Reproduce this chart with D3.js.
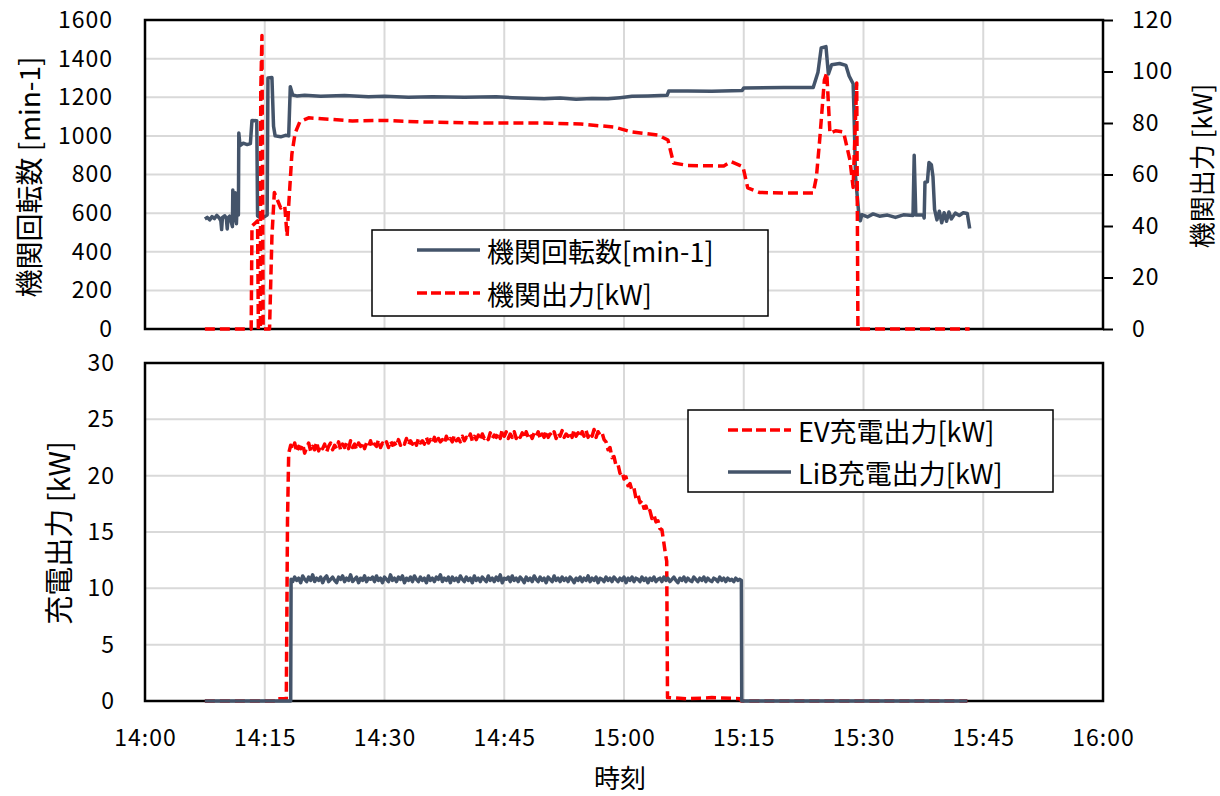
<!DOCTYPE html>
<html>
<head>
<meta charset="utf-8">
<script src="https://cdn.jsdelivr.net/npm/d3@7"></script>
<style>
body { margin: 0; background: #fff; }
text { font-family: "Noto Sans CJK JP", sans-serif; fill: #000; }
.tick text { font-size: 23px; letter-spacing: 1px; }
</style>
</head>
<body>
<svg id="chart" width="1220" height="796"></svg>
<script>
// time is minutes after 14:00
var timeTicks = ["14:00", "14:15", "14:30", "14:45", "15:00", "15:15", "15:30", "15:45", "16:00"];
var rpmTicks = [0, 200, 400, 600, 800, 1000, 1200, 1400, 1600];
var kwTicks = [0, 20, 40, 60, 80, 100, 120];
var chgTicks = [0, 5, 10, 15, 20, 25, 30];

// 機関回転数 [min-1]
var rpmPts = [[7.5,570],[7.8,578],[8.1,565],[8.4,582],[8.7,572],[9.0,588],[9.3,575],[9.5,560],[9.6,515],[9.7,578],
  [10.0,586],[10.2,568],[10.3,518],[10.4,576],[10.6,584],[10.8,555],[10.95,530],[11.0,720],[11.15,560],[11.3,705],
  [11.45,545],[11.6,700],[11.7,590],[11.75,1015],[11.9,950],[12.3,962],[12.8,955],[13.2,960],[13.4,1080],[14.0,1078],
  [14.1,585],[14.5,575],[15.0,582],[15.3,590],[15.4,1300],[15.9,1302],[16.1,1050],[16.3,1000],[17.0,995],[17.6,1003],
  [18.0,1000],[18.2,1255],[18.5,1212],[19,1207],[20,1210],[22,1205],[25,1209],[28,1203],[30,1205],[33,1200],
  [36,1203],[40,1200],[44,1202],[46,1198],[48,1195],[50,1192],[52,1196],[54,1190],[56,1194],[58,1192],
  [59.5,1198],[61,1205],[63,1207],[65.4,1210],[65.6,1232],[68,1233],[71,1231],[74.8,1235],[75.0,1248],[80,1250],
  [83.7,1250],[84.3,1330],[84.7,1455],[85.3,1462],[85.6,1320],[86.0,1368],[87.0,1375],[87.8,1365],[88.2,1310],[88.7,1270],
  [88.8,1140],[89.0,790],[89.4,600],[89.6,560],[89.8,592],[90.5,580],[91.2,596],[92,584],[93,590],[94,578],
  [95,591],[96.2,588],[96.35,900],[96.55,590],[97.5,590],[97.6,575],[97.7,760],[98.0,762],[98.2,862],[98.5,850],
  [98.7,790],[98.9,620],[99.2,565],[99.5,610],[99.8,550],[100.1,602],[100.4,558],[100.7,606],[101,570],[101.5,600],
  [102,588],[102.5,602],[103.0,598],[103.3,520]];

// 機関出力 [kW]
var pwrPts = [[7.5,0],[13.3,0],[13.4,40],[14.1,42],[14.2,0],[14.45,0],[14.5,92],[14.65,114],[14.8,0],[15.6,0],
  [15.9,36],[16.2,53],[16.6,50],[17.0,47],[17.5,48],[17.8,36],[18.0,48],[18.4,68],[18.8,76],[19.4,80.5],
  [20.5,82],[23,81.5],[26,80.8],[30,81],[34,80.5],[38,80.2],[42,80],[46,80],[50,80],[54.6,79.6],
  [58.8,78.4],[61,76.5],[64.3,75.3],[65.5,73.4],[66.2,64.5],[68,63.5],[72.5,63.3],[73.4,65],[74.9,63],[75.5,54.8],
  [77,53],[80,52.8],[83.7,52.8],[84.1,59],[84.5,73],[85.1,96.7],[85.4,99.5],[85.8,76],[86.5,77],[87.5,76.5],
  [88.3,65.6],[88.7,55],[89.15,95.5],[89.3,0],[103.3,0]];

// EV充電出力 [kW]
var evPts = [[7.5,0],[16.5,0],[16.6,0.2],[17.7,0.2],[17.85,16.0],
  [18,22.0],[18.25,22.7],[18.5,22.3],[18.75,22.9],[19,22.1],[19.25,22.6],[19.5,22.4],[19.75,22.8],[20,22.0],[20.25,22.5],
  [20.5,22.9],[20.75,22.2],[21,22.6],[21.25,22.3],[21.5,23.0],[21.75,22.2],[22,22.7],[22.25,22.4],[22.5,22.8],[22.75,22.1],
  [23,22.6],[23.25,22.9],[23.5,22.3],[23.75,22.7],[24,22.4],[24.25,23.0],[24.5,22.3],[24.75,22.8],[25,22.5],[25.25,22.9],
  [25.5,22.4],[25.75,23.1],[26,22.5],[26.25,22.8],[26.5,22.3],[26.75,22.9],[27,22.6],[27.25,23.0],[27.5,22.4],[27.75,22.9],
  [28,22.6],[28.25,23.1],[28.5,22.5],[28.75,22.8],[29,22.6],[29.25,23.2],[29.5,22.5],[29.75,22.9],[30,22.7],[30.25,23.0],
  [30.5,22.5],[30.75,23.1],[31,22.7],[31.25,22.9],[31.5,22.6],[31.75,23.2],[32,22.7],[32.25,23.0],[32.5,22.8],[32.75,23.3],
  [33,22.7],[33.25,23.1],[33.5,22.8],[33.75,23.2],[34,22.7],[34.25,23.3],[34.5,22.9],[34.75,23.1],[35,22.8],[35.25,23.4],
  [35.5,22.9],[35.75,23.2],[36,22.9],[36.25,23.4],[36.5,22.8],[36.75,23.3],[37,23.0],[37.25,23.2],[37.5,22.9],[37.75,23.5],
  [38,23.0],[38.25,23.3],[38.5,23.0],[38.75,23.6],[39,23.1],[39.25,23.3],[39.5,23.0],[39.75,23.5],[40,23.1],[40.25,23.4],
  [40.5,23.2],[40.75,23.7],[41,23.1],[41.25,23.5],[41.5,23.2],[41.75,23.6],[42,23.2],[42.25,23.7],[42.5,23.3],[42.75,23.5],
  [43,23.2],[43.25,23.8],[43.5,23.3],[43.75,23.6],[44,23.4],[44.25,23.8],[44.5,23.3],[44.75,24.1],[45,23.5],[45.25,23.9],
  [45.5,23.3],[45.75,23.7],[46,23.4],[46.25,23.9],[46.5,23.3],[46.75,23.7],[47,23.4],[47.25,23.8],[47.5,23.3],[47.75,23.9],
  [48,23.4],[48.25,23.7],[48.5,23.3],[48.75,23.8],[49,23.5],[49.25,23.9],[49.5,23.3],[49.75,23.7],[50,23.4],[50.25,24.0],
  [50.5,23.4],[50.75,23.7],[51,23.5],[51.25,23.9],[51.5,23.3],[51.75,23.8],[52,23.5],[52.25,24.0],[52.5,23.4],[52.75,23.7],
  [53,23.5],[53.25,23.9],[53.5,23.4],[53.75,24.1],[54,23.5],[54.25,23.8],[54.5,23.4],[54.75,23.9],[55,23.5],[55.25,24.0],
  [55.5,23.4],[55.75,23.8],[56,23.5],[56.25,24.1],[56.5,23.4],[56.75,23.9],[57,23.6],[57.25,23.8],[57.5,23.2],[57.75,23.0],
  [58,22.3],[58.25,22.5],[58.5,21.6],[58.75,21.7],[59,20.9],[59.25,21.0],[59.5,20.2],[59.75,20.4],[60,19.7],[60.25,19.9],
  [60.5,19.1],[60.75,19.3],[61,18.7],[61.25,18.9],[61.5,18.0],[61.75,18.3],[62,17.6],[62.25,17.8],[62.5,17.1],[62.75,17.3],
  [63,16.7],[63.25,16.9],[63.5,16.2],[63.75,16.5],[64,15.9],[64.25,16.0],[64.5,15.3],[64.75,15.2],[65,14.0],[65.2,13.0],
  [65.35,12.4],[65.45,0.3],[68,0.2],[71,0.3],[74.6,0.2],[74.7,0],[103,0]];

// LiB充電出力 [kW]
var libPts = [[7.5,0],[18.25,0],[18.3,10.8],
  [18.5,10.6],[18.75,11.0],[19,10.7],[19.25,10.9],[19.5,10.5],[19.75,11.1],[20,10.8],[20.25,10.6],[20.5,11.0],[20.75,10.7],
  [21,11.2],[21.25,10.6],[21.5,10.9],[21.75,10.7],[22,11.0],[22.25,10.5],[22.5,10.9],[22.75,11.1],[23,10.6],[23.25,10.8],
  [23.5,11.0],[23.75,10.7],[24,10.5],[24.25,11.0],[24.5,10.8],[24.75,11.1],[25,10.6],[25.25,10.9],[25.5,10.7],[25.75,11.2],
  [26,10.6],[26.25,10.8],[26.5,11.0],[26.75,10.5],[27,10.9],[27.25,10.7],[27.5,11.1],[27.75,10.6],[28,10.9],[28.25,10.8],
  [28.5,11.0],[28.75,10.6],[29,11.1],[29.25,10.7],[29.5,10.9],[29.75,10.5],[30,11.0],[30.25,10.8],[30.5,10.6],[30.75,11.2],
  [31,10.7],[31.25,10.9],[31.5,10.6],[31.75,11.0],[32,10.8],[32.25,11.1],[32.5,10.5],[32.75,10.9],[33,10.7],[33.25,11.0],
  [33.5,10.6],[33.75,11.1],[34,10.8],[34.25,10.6],[34.5,11.0],[34.75,10.7],[35,10.9],[35.25,10.5],[35.5,11.1],[35.75,10.7],
  [36,10.9],[36.25,10.6],[36.5,11.0],[36.75,10.8],[37,11.2],[37.25,10.6],[37.5,10.9],[37.75,10.7],[38,11.0],[38.25,10.5],
  [38.5,11.0],[38.75,10.7],[39,10.9],[39.25,10.6],[39.5,11.1],[39.75,10.8],[40,10.6],[40.25,11.0],[40.5,10.7],[40.75,10.9],
  [41,10.5],[41.25,11.1],[41.5,10.7],[41.75,10.9],[42,10.6],[42.25,11.0],[42.5,10.8],[42.75,10.6],[43,11.1],[43.25,10.7],
  [43.5,10.9],[43.75,10.6],[44,11.0],[44.25,10.7],[44.5,11.2],[44.75,10.5],[45,10.9],[45.25,10.8],[45.5,11.0],[45.75,10.6],
  [46,11.1],[46.25,10.7],[46.5,10.9],[46.75,10.6],[47,11.0],[47.25,10.8],[47.5,10.5],[47.75,11.0],[48,10.7],[48.25,10.9],
  [48.5,10.6],[48.75,11.1],[49,10.8],[49.25,10.6],[49.5,11.0],[49.75,10.7],[50,10.9],[50.25,10.5],[50.5,11.0],[50.75,10.8],
  [51,10.6],[51.25,11.1],[51.5,10.7],[51.75,10.9],[52,10.6],[52.25,11.0],[52.5,10.7],[52.75,10.9],[53,10.6],[53.25,11.0],
  [53.5,10.8],[53.75,10.5],[54,10.9],[54.25,10.7],[54.5,11.0],[54.75,10.6],[55,10.9],[55.25,10.7],[55.5,11.1],[55.75,10.6],
  [56,10.9],[56.25,10.7],[56.5,11.0],[56.75,10.5],[57,10.9],[57.25,10.8],[57.5,10.6],[57.75,11.0],[58,10.7],[58.25,10.9],
  [58.5,10.6],[58.75,11.0],[59,10.8],[59.25,10.6],[59.5,10.9],[59.75,10.7],[60,11.0],[60.25,10.5],[60.5,10.9],[60.75,10.7],
  [61,11.0],[61.25,10.6],[61.5,10.9],[61.75,10.8],[62,10.6],[62.25,11.0],[62.5,10.7],[62.75,10.9],[63,10.5],[63.25,10.9],
  [63.5,10.7],[63.75,11.0],[64,10.6],[64.25,10.8],[64.5,10.9],[64.75,10.6],[65,11.0],[65.25,10.7],[65.5,10.9],[65.75,10.6],
  [66,10.8],[66.25,11.0],[66.5,10.7],[66.75,10.5],[67,10.9],[67.25,10.7],[67.5,11.0],[67.75,10.6],[68,10.9],[68.25,10.7],
  [68.5,10.6],[68.75,11.0],[69,10.8],[69.25,10.6],[69.5,10.9],[69.75,10.7],[70,11.0],[70.25,10.6],[70.5,10.9],[70.75,10.7],
  [71,10.6],[71.25,10.9],[71.5,10.8],[71.75,10.6],[72,11.0],[72.25,10.7],[72.5,10.9],[72.75,10.6],[73,10.9],[73.25,10.7],
  [73.5,10.8],[73.75,10.6],[74,10.9],[74.25,10.7],[74.5,10.8],[74.7,10.7],[74.75,0],[103,0]];

var svg = d3.select("#chart");
var parseT = d3.timeParse("%H:%M");
var t0 = parseT("14:00");
function toDate(m) { return new Date(t0.getTime() + m * 60000); }

var left = 145, right = 1103;
var x = d3.scaleTime().domain([t0, parseT("16:00")]).range([left, right]);
var yRpm = d3.scaleLinear().domain([0, 1600]).range([329, 20]);
var yKw = d3.scaleLinear().domain([0, 120]).range([329, 20]);
var yChg = d3.scaleLinear().domain([0, 30]).range([701, 363]);
var tickDates = timeTicks.map(parseT);

var gray = "#44546a", red = "#ff0000";

function panel(y, ticks) {
    var g = svg.append("g");
    g.selectAll(".hg").data(ticks).enter().append("line")
        .attr("x1", left).attr("x2", right)
        .attr("y1", function (d) { return y(d); })
        .attr("y2", function (d) { return y(d); })
        .attr("stroke", "#d9d9d9").attr("stroke-width", 2);
    g.selectAll(".vg").data(tickDates).enter().append("line")
        .attr("x1", function (d) { return x(d); })
        .attr("x2", function (d) { return x(d); })
        .attr("y1", y.range()[1]).attr("y2", y.range()[0])
        .attr("stroke", "#d9d9d9").attr("stroke-width", 2);
    g.append("rect")
        .attr("x", left).attr("y", y.range()[1])
        .attr("width", right - left).attr("height", y.range()[0] - y.range()[1])
        .attr("fill", "none").attr("stroke", "#000").attr("stroke-width", 2.5);
    return g;
}

function drawLine(pts, y, color, dashed) {
    var line = d3.line()
        .x(function (d) { return x(toDate(d[0])); })
        .y(function (d) { return y(d[1]); });
    svg.append("path")
        .datum(pts)
        .attr("d", line)
        .attr("fill", "none")
        .attr("stroke", color)
        .attr("stroke-width", 3.5)
        .attr("stroke-linejoin", "round")
        .attr("stroke-dasharray", dashed ? "10,5" : null);
}

// top panel
panel(yRpm, rpmTicks);
var axL = svg.append("g").attr("transform", "translate(" + left + ",0)")
    .call(d3.axisLeft(yRpm).tickValues(rpmTicks).tickFormat(d3.format("d")).tickSize(0).tickPadding(32));
axL.select(".domain").remove();
var axR = svg.append("g").attr("transform", "translate(" + right + ",0)")
    .call(d3.axisRight(yKw).tickValues(kwTicks).tickFormat(d3.format("d")).tickSize(10).tickPadding(19));
axR.select(".domain").remove();
axR.selectAll(".tick line").attr("stroke", "#000").attr("stroke-width", 2);

drawLine(rpmPts, yRpm, gray, false);
drawLine(pwrPts, yKw, red, true);

// bottom panel
panel(yChg, chgTicks);
var axL2 = svg.append("g").attr("transform", "translate(" + left + ",0)")
    .call(d3.axisLeft(yChg).tickValues(chgTicks).tickFormat(d3.format("d")).tickSize(0).tickPadding(30));
axL2.select(".domain").remove();
var axB = svg.append("g").attr("transform", "translate(0,701)")
    .call(d3.axisBottom(x).tickValues(tickDates).tickFormat(d3.timeFormat("%H:%M")).tickSize(0).tickPadding(29));
axB.select(".domain").remove();

drawLine(evPts, yChg, red, true);
drawLine(libPts, yChg, gray, false);

svg.selectAll(".tick text").attr("fill", "#000");

// axis titles
function vTitle(txt, cx, cy, size) {
    svg.append("text")
        .attr("transform", "translate(" + cx + "," + cy + ") rotate(-90)")
        .attr("text-anchor", "middle")
        .attr("dominant-baseline", "central")
        .attr("font-size", size)
        .text(txt);
}
vTitle("機関回転数 [min-1]", 28, 177, 28);
vTitle("機関出力 [kW]", 1200, 166, 26);
vTitle("充電出力 [kW]", 57, 533, 29);

svg.append("text")
    .attr("x", 620).attr("y", 776)
    .attr("text-anchor", "middle")
    .attr("dominant-baseline", "central")
    .attr("font-size", 26)
    .text("時刻");

// legends
function legend(bx, by, bw, bh, items) {
    var g = svg.append("g");
    g.append("rect").attr("x", bx).attr("y", by).attr("width", bw).attr("height", bh)
        .attr("fill", "#fff").attr("stroke", "#000").attr("stroke-width", 1.5);
    var row = g.selectAll(".row").data(items).enter().append("g")
        .attr("transform", function (d) { return "translate(0," + d.y + ")"; });
    row.append("line")
        .attr("x1", function (d) { return d.x1; })
        .attr("x2", function (d) { return d.x1 + 63; })
        .attr("stroke", function (d) { return d.color; })
        .attr("stroke-width", 3.5)
        .attr("stroke-dasharray", function (d) { return d.dashed ? "10,4" : null; });
    row.append("text")
        .attr("x", function (d) { return d.x1 + 70; })
        .attr("dominant-baseline", "central")
        .attr("font-size", 27)
        .text(function (d) { return d.label; });
}
legend(372, 230, 396, 86, [
    { y: 250, x1: 417, color: gray, dashed: false, label: "機関回転数[min-1]" },
    { y: 293, x1: 417, color: red, dashed: true, label: "機関出力[kW]" }
]);
legend(688, 410, 365, 82, [
    { y: 430, x1: 728, color: red, dashed: true, label: "EV充電出力[kW]" },
    { y: 472, x1: 728, color: gray, dashed: false, label: "LiB充電出力[kW]" }
]);
</script>
</body>
</html>
